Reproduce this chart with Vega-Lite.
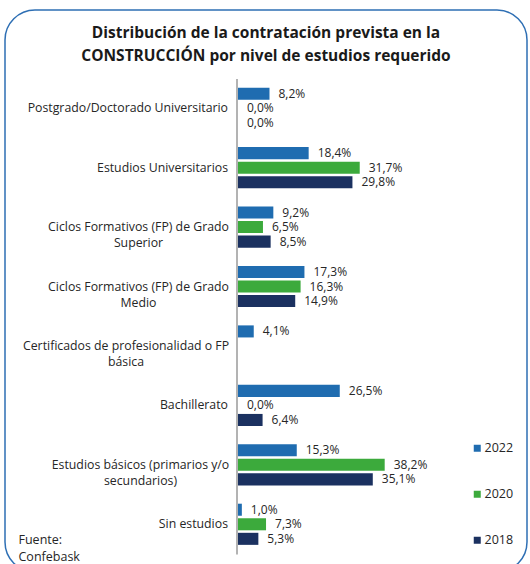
{
  "$schema": "https://vega.github.io/schema/vega-lite/v6.json",
  "width": 522,
  "height": 562,
  "autosize": {"type": "none"},
  "padding": {"left": 5, "top": 10, "right": 3, "bottom": 0},
  "background": "white",
  "config": {
    "font": "Open Sans",
    "view": {"stroke": "#2E6FB4", "strokeWidth": 1.5, "cornerRadius": 30}
  },
  "title": {
    "text": ["Distribución de la contratación prevista en la", "CONSTRUCCIÓN por nivel de estudios requerido"],
    "anchor": "middle",
    "frame": "group",
    "font": "Open Sans",
    "fontSize": 15.5,
    "fontWeight": "bold",
    "color": "#1a1a1a",
    "lineHeight": 23,
    "baseline": "top",
    "offset": 0,
    "dy": 54
  },
  "data": {
    "values": [
      {"nivel": "Postgrado/Doctorado Universitario", "anio": "2022", "pct": 8.2},
      {"nivel": "Postgrado/Doctorado Universitario", "anio": "2020", "pct": 0.0},
      {"nivel": "Postgrado/Doctorado Universitario", "anio": "2018", "pct": 0.0},
      {"nivel": "Estudios Universitarios", "anio": "2022", "pct": 18.4},
      {"nivel": "Estudios Universitarios", "anio": "2020", "pct": 31.7},
      {"nivel": "Estudios Universitarios", "anio": "2018", "pct": 29.8},
      {"nivel": "Ciclos Formativos (FP) de Grado Superior", "anio": "2022", "pct": 9.2},
      {"nivel": "Ciclos Formativos (FP) de Grado Superior", "anio": "2020", "pct": 6.5},
      {"nivel": "Ciclos Formativos (FP) de Grado Superior", "anio": "2018", "pct": 8.5},
      {"nivel": "Ciclos Formativos (FP) de Grado Medio", "anio": "2022", "pct": 17.3},
      {"nivel": "Ciclos Formativos (FP) de Grado Medio", "anio": "2020", "pct": 16.3},
      {"nivel": "Ciclos Formativos (FP) de Grado Medio", "anio": "2018", "pct": 14.9},
      {"nivel": "Certificados de profesionalidad o FP básica", "anio": "2022", "pct": 4.1},
      {"nivel": "Bachillerato", "anio": "2022", "pct": 26.5},
      {"nivel": "Bachillerato", "anio": "2020", "pct": 0.0},
      {"nivel": "Bachillerato", "anio": "2018", "pct": 6.4},
      {"nivel": "Estudios básicos (primarios y/o secundarios)", "anio": "2022", "pct": 15.3},
      {"nivel": "Estudios básicos (primarios y/o secundarios)", "anio": "2020", "pct": 38.2},
      {"nivel": "Estudios básicos (primarios y/o secundarios)", "anio": "2018", "pct": 35.1},
      {"nivel": "Sin estudios", "anio": "2022", "pct": 1.0},
      {"nivel": "Sin estudios", "anio": "2020", "pct": 7.3},
      {"nivel": "Sin estudios", "anio": "2018", "pct": 5.3}
    ]
  },
  "transform": [
    {"calculate": "replace(format(datum.pct, '.1f'), '.', ',') + '%'", "as": "etiqueta"}
  ],
  "encoding": {
    "y": {
      "field": "nivel",
      "type": "nominal",
      "sort": [
        "Postgrado/Doctorado Universitario",
        "Estudios Universitarios",
        "Ciclos Formativos (FP) de Grado Superior",
        "Ciclos Formativos (FP) de Grado Medio",
        "Certificados de profesionalidad o FP básica",
        "Bachillerato",
        "Estudios básicos (primarios y/o secundarios)",
        "Sin estudios"
      ],
      "scale": {"range": [68.5, 544], "paddingInner": 0, "paddingOuter": 0},
      "axis": {
        "title": null,
        "orient": "left",
        "offset": -231.5,
        "domainColor": "#B3B3B3",
        "domainWidth": 2,
        "ticks": false,
        "labelAlign": {
          "condition": {"test": "indexof(['Ciclos Formativos (FP) de Grado Superior', 'Ciclos Formativos (FP) de Grado Medio', 'Certificados de profesionalidad o FP básica', 'Estudios básicos (primarios y/o secundarios)'], datum.value) >= 0", "value": "center"},
          "value": "right"
        },
        "labelPadding": {
          "condition": [
            {"test": "datum.value == 'Ciclos Formativos (FP) de Grado Superior' || datum.value == 'Ciclos Formativos (FP) de Grado Medio'", "value": 98.5},
            {"test": "datum.value == 'Certificados de profesionalidad o FP básica'", "value": 111},
            {"test": "datum.value == 'Estudios básicos (primarios y/o secundarios)'", "value": 96.5}
          ],
          "value": 9
        },
        "labelFont": "Open Sans",
        "labelFontSize": 12.3,
        "labelColor": "#262626",
        "labelLimit": 0,
        "labelLineHeight": 16,
        "labelExpr": "datum.label == 'Ciclos Formativos (FP) de Grado Superior' ? ['Ciclos Formativos (FP) de Grado', 'Superior'] : datum.label == 'Ciclos Formativos (FP) de Grado Medio' ? ['Ciclos Formativos (FP) de Grado', 'Medio'] : datum.label == 'Certificados de profesionalidad o FP básica' ? ['Certificados de profesionalidad o FP', 'básica'] : datum.label == 'Estudios básicos (primarios y/o secundarios)' ? ['Estudios básicos (primarios y/o', 'secundarios)'] : datum.label"
      }
    },
    "yOffset": {
      "field": "anio",
      "type": "nominal",
      "sort": ["2022", "2020", "2018"],
      "scale": {"paddingInner": 0.172, "paddingOuter": 0.628}
    },
    "x": {
      "field": "pct",
      "type": "quantitative",
      "scale": {"domain": [-60.68, 75.26], "nice": false, "zero": false},
      "axis": {
        "orient": "bottom",
        "grid": false,
        "labels": false,
        "ticks": false,
        "domain": false,
        "title": ["Fuente:", "Confebask"],
        "titleAnchor": "start",
        "titleAlign": "left",
        "titleX": 13,
        "titleY": -39,
        "titleBaseline": "top",
        "titleFont": "Open Sans",
        "titleFontSize": 12.5,
        "titleFontWeight": "normal",
        "titleColor": "#262626",
        "titleLineHeight": 17
      }
    }
  },
  "layer": [
    {
      "mark": {"type": "bar"},
      "encoding": {
        "x2": {"datum": 0},
        "color": {
          "field": "anio",
          "type": "nominal",
          "scale": {"domain": ["2022", "2020", "2018"], "range": ["#1F6CB0", "#3CAA3C", "#1B3160"]},
          "legend": {
            "title": null,
            "orient": "none",
            "legendX": 466,
            "legendY": 432,
            "symbolType": "square",
            "symbolSize": 49,
            "symbolStrokeWidth": 0,
            "rowPadding": 33,
            "labelFont": "Open Sans",
            "labelFontSize": 12.5,
            "labelColor": "#262626",
            "labelOffset": 1
          }
        }
      }
    },
    {
      "mark": {"type": "text", "align": "left", "baseline": "middle", "dx": 9, "font": "Open Sans", "fontSize": 12, "color": "#262626"},
      "encoding": {
        "text": {"field": "etiqueta"}
      }
    }
  ]
}
